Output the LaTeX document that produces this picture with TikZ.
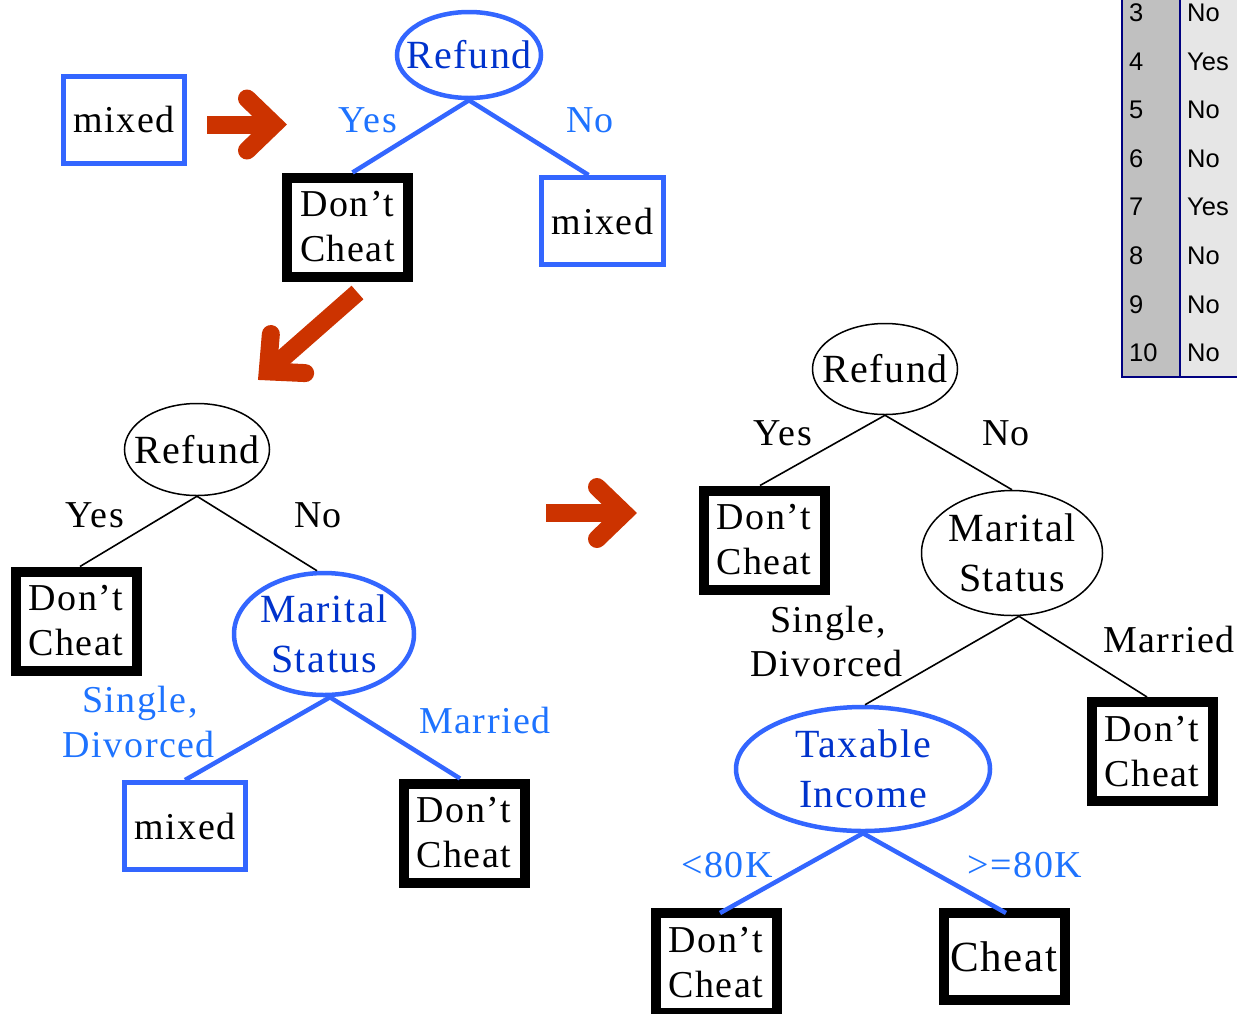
\documentclass[tikz,border=0pt]{standalone}
\usepackage{fontspec}
\setmainfont{Liberation Serif}[LetterSpace=4]
\newfontfamily\tablefont{Liberation Sans}
\usetikzlibrary{shapes.geometric,calc}

\definecolor{nodeblue}{RGB}{51,102,255}
\definecolor{textblue}{RGB}{0,51,204}
\definecolor{labelblue}{RGB}{30,115,255}
\definecolor{arrowred}{RGB}{204,51,0}
\definecolor{idgray}{RGB}{192,192,192}
\definecolor{cellgray}{RGB}{230,230,230}
\definecolor{rulenavy}{RGB}{0,0,128}

% thick red step arrow: start point, direction, length to the tip
\newcommand\redturn[3]{%
  \begin{scope}[shift={#1},rotate=#2]
    \draw[arrowshaft] (0,0) -- (#3-13,0);
    \draw[arrowtip] (#3-40,26) -- (#3-13,0) -- (#3-40,-26);
  \end{scope}}

\begin{document}
\begin{tikzpicture}[x=1pt,y=-1pt,
  every node/.style={font=\fontsize{38}{45}\selectfont},
  leaf/.style={draw=black, line width=10pt, fill=white, inner sep=0pt,
    minimum width=121pt, minimum height=99pt, align=left},
  mixbox/.style={draw=nodeblue, line width=5pt, fill=white, inner sep=0pt,
    minimum width=121pt, minimum height=87pt},
  splitplain/.style={ellipse, draw=black, line width=1.5pt, fill=white, inner sep=0pt},
  splitblue/.style={ellipse, draw=nodeblue, line width=4.5pt, fill=white, inner sep=0pt},
  plaintext/.style={font=\fontsize{40}{50}\selectfont, align=center, text=black},
  bluetext/.style={font=\fontsize{40}{50}\selectfont, align=center, text=textblue},
  blueedge/.style={draw=nodeblue, line width=4.5pt},
  plainedge/.style={draw=black, line width=1.6pt},
  lab/.style={anchor=base, inner sep=0pt},
  bluelab/.style={lab, text=labelblue},
  arrowshaft/.style={draw=arrowred, line width=18pt, line cap=butt},
  arrowtip/.style={draw=arrowred, line width=18pt, line cap=round, line join=miter},
  tabtext/.style={font=\tablefont\fontsize{25.5}{30}\selectfont, anchor=base west, inner sep=0pt}
]
\useasboundingbox (0,0) rectangle (1237,1013);
\clip (0,0) rectangle (1237,1013);

% ---------- record table (top right) ----------
\fill[idgray] (1122,-20) rectangle (1180,376.5);
\fill[cellgray] (1180,-20) rectangle (1240,376.5);
\draw[rulenavy, line width=1.5pt] (1122,-20) -- (1122,377) -- (1240,377);
\draw[rulenavy, line width=1.5pt] (1180,-20) -- (1180,377);
\foreach \i/\v in {3/No,4/Yes,5/No,6/No,7/Yes,8/No,9/No,10/No}{
  \node[tabtext] (tid\i) at (1129,{21.5+(\i-3)*48.6}) {\i};
  \node[tabtext] (tval\i) at (1187,{21.5+(\i-3)*48.6}) {\v};
}

% ---------- step 1 ----------
\node[mixbox] (mixA) at (124,119.5) {mixed};
\redturn{(207,124.5)}{0}{80}

\node[splitblue, minimum width=144pt, minimum height=86pt,
  label={[bluetext]center:Refund}] (refA) at (469,55) {};
\node[leaf] (dcA) at (347.5,227) {Don't\\Cheat};
\node[mixbox, minimum width=122pt] (mixB) at (602.5,221) {mixed};
\draw[blueedge] (refA.south) -- ([xshift=5pt]dcA.north);
\draw[blueedge] (refA.south) -- ([xshift=-14pt]mixB.north);
\node[bluelab] (yesA) at (368,132) {Yes};
\node[bluelab] (noA) at (590,132) {No};

\redturn{(357.5,292.5)}{221.3}{132.5}

% ---------- step 2 ----------
\node[splitplain, minimum width=145pt, minimum height=92pt,
  label={[plaintext]center:Refund}] (refB) at (197,449.5) {};
\node[leaf] (dcB) at (76,621) {Don't\\Cheat};
\node[splitblue, minimum width=180pt, minimum height=122pt,
  label={[bluetext]center:Marital\\Status}] (msB) at (324,634) {};
\node[mixbox] (mixC) at (185,826) {mixed};
\node[leaf] (dcC) at (464,833) {Don't\\Cheat};
\draw[plainedge] (refB.south) -- ([xshift=4pt]dcB.north);
\draw[plainedge] (refB.south) -- ([xshift=-7pt]msB.north);
\draw[blueedge] ([xshift=6pt]msB.south) -- (mixC.north);
\draw[blueedge] ([xshift=6pt]msB.south) -- ([xshift=-4pt]dcC.north);
\node[lab] (yesB) at (95,527) {Yes};
\node[lab] (noB) at (318,527) {No};
\node[bluelab] (sglB) at (140,712) {Single,};
\node[bluelab] (divB) at (139,757) {Divorced};
\node[bluelab] (marB) at (485,733) {Married};

\redturn{(546,513)}{0}{91}

% ---------- step 3 ----------
\node[splitplain, minimum width=145pt, minimum height=91pt,
  label={[plaintext]center:Refund}] (refC) at (885,369) {};
\node[leaf] (dcD) at (764,540) {Don't\\Cheat};
\node[splitplain, minimum width=181pt, minimum height=125pt,
  label={[plaintext]center:Marital\\Status}] (msC) at (1012,553) {};
\node[splitblue, minimum width=254pt, minimum height=124pt,
  label={[bluetext]center:Taxable\\Income}] (tiC) at (863,769) {};
\node[leaf] (dcE) at (1152,751.5) {Don't\\Cheat};
\node[leaf, minimum height=100pt] (dcF) at (716,963) {Don't\\Cheat};
\node[leaf, minimum height=87pt, font=\fontsize{43}{50}\selectfont] (chF) at (1004,956.5) {Cheat};
\draw[plainedge] (refC.south) -- ([xshift=-4pt]dcD.north);
\draw[plainedge] (refC.south) -- (msC.north);
\draw[plainedge] ([xshift=7pt]msC.south) -- ([xshift=2pt]tiC.north);
\draw[plainedge] ([xshift=7pt]msC.south) -- ([xshift=-5pt]dcE.north);
\draw[blueedge] (tiC.south) -- ([xshift=4pt,yshift=-5pt]dcF.north);
\draw[blueedge] (tiC.south) -- ([xshift=2pt,yshift=-5pt]chF.north);
\node[lab] (yesC) at (783,445) {Yes};
\node[lab] (noC) at (1006,445) {No};
\node[lab] (sglC) at (828,632) {Single,};
\node[lab] (divC) at (827,676) {Divorced};
\node[lab] (marC) at (1169,652) {Married};
\node[bluelab] (ltC) at (727,877) {<80K};
\node[bluelab] (geC) at (1025,877) {>=80K};
\end{tikzpicture}
\end{document}
